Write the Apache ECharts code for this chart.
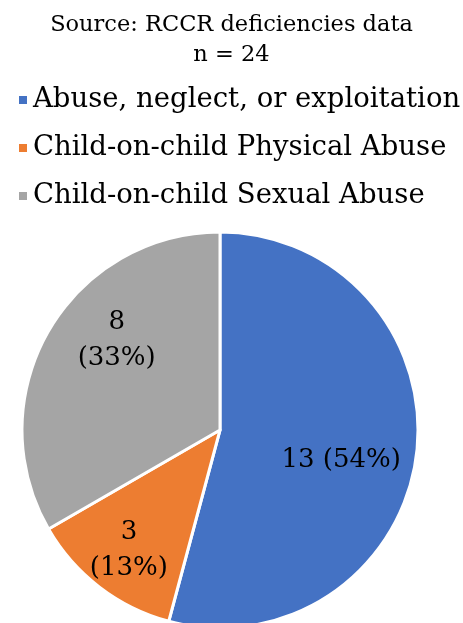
<!DOCTYPE html>
<html><head><meta charset="utf-8">
<script src="https://cdn.jsdelivr.net/npm/echarts@6/dist/echarts.min.js"></script>
<style>html,body{margin:0;padding:0;background:#fff}#c{width:463px;height:623px}</style>
</head><body><div id="c"></div>
<script>
const categories = ['Abuse, neglect, or exploitation', 'Child-on-child Physical Abuse', 'Child-on-child Sexual Abuse'];
const values = [13, 3, 8];
const colors = ['#4472C4', '#ED7D31', '#A5A5A5'];
const titleText = 'Source: RCCR deficiencies data';
const subText = 'n = 24';
const FONT = 'DejaVu Serif';
const total = values.reduce((a, b) => a + b, 0);
const labelOffsets = [[20, 17], [-29, 39], [-15, -39]];
const labelFormats = [
  (v, p) => v + ' (' + p + '%)',
  (v, p) => v + '\n(' + p + '%)',
  (v, p) => v + '\n(' + p + '%)'
];
const chart = echarts.init(document.getElementById('c'));
chart.setOption({
  animation: false,
  title: {
    text: titleText + '\n' + subText,
    left: 'center', top: 5,
    textStyle: { fontFamily: FONT, fontSize: 22.5, fontWeight: 'normal', color: '#000', lineHeight: 30 }
  },
  legend: {
    orient: 'vertical', left: 12, top: 81,
    itemWidth: 10, itemHeight: 10, itemGap: 20, icon: 'rect',
    textStyle: { fontFamily: FONT, fontSize: 27.5, color: '#000' },
    data: categories
  },
  series: [{
    type: 'pie',
    center: [220, 430], radius: 198,
    startAngle: 90, clockwise: true,
    itemStyle: { borderColor: '#fff', borderWidth: 3 },
    labelLine: { show: false },
    data: categories.map((c, i) => ({
      name: c, value: values[i],
      itemStyle: { color: colors[i] },
      label: {
        show: true, position: 'inside', offset: labelOffsets[i],
        fontFamily: FONT, fontSize: 26, color: '#000', lineHeight: 36,
        formatter: labelFormats[i](values[i], Math.round(values[i] / total * 100))
      }
    }))
  }]
});
</script></body></html>
